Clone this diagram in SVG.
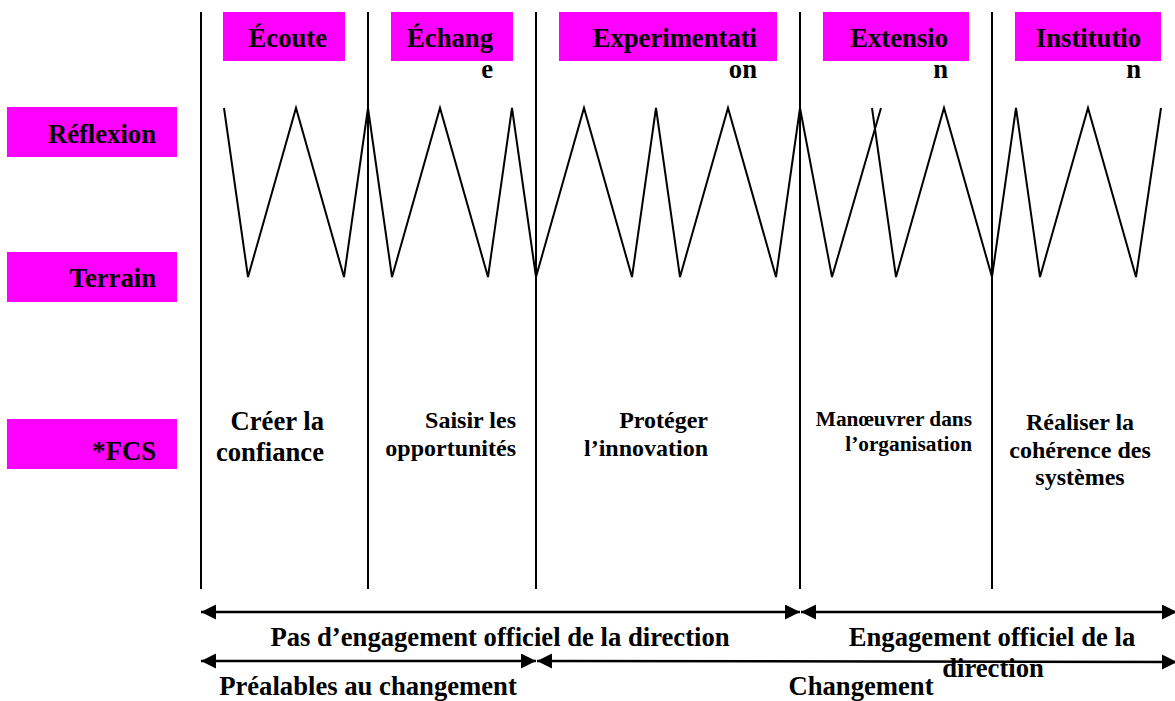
<svg xmlns="http://www.w3.org/2000/svg" width="1175" height="701" viewBox="0 0 1175 701" font-family="'Liberation Serif', 'DejaVu Serif', serif">
<defs>
<style>
.box{fill:#ff00ff;}
.t{font-family:'Liberation Serif','DejaVu Serif',serif;font-weight:700;font-size:26.67px;fill:#000;}
.s{font-size:24px;}
.xs{font-size:21.33px;}
.vl{stroke:#000;stroke-width:2;fill:none;}
.zz{stroke:#000;stroke-width:2;fill:none;stroke-linejoin:miter;}
.ar{stroke:#000;stroke-width:2.5;fill:none;marker-start:url(#ah);marker-end:url(#ah);}
</style>
<marker id="ah" markerUnits="userSpaceOnUse" markerWidth="16" markerHeight="16" refX="15" refY="7.5" orient="auto-start-reverse" viewBox="0 0 16 16">
<path d="M0,0 L15,7.5 L0,15 z" fill="#000"/>
</marker>
</defs>
<rect width="1175" height="701" fill="#fff"/>

<g id="grid">
<line class="vl" x1="201" y1="12" x2="201" y2="589"/>
<line class="vl" x1="368" y1="12" x2="368" y2="589"/>
<line class="vl" x1="536" y1="12" x2="536" y2="589"/>
<line class="vl" x1="800" y1="12" x2="800" y2="589"/>
<line class="vl" x1="992" y1="12" x2="992" y2="589"/>
</g>

<g id="phase-ecoute">
<rect class="box" x="223" y="12" width="122" height="49"/>
<text class="t" x="327" y="47" text-anchor="end">Écoute</text>
</g>
<g id="phase-echange">
<rect class="box" x="391" y="12" width="122" height="49"/>
<text class="t" x="493" y="47" text-anchor="end">Échang</text>
<text class="t" x="493" y="78" text-anchor="end">e</text>
</g>
<g id="phase-experimentation">
<rect class="box" x="559" y="12" width="218" height="49"/>
<text class="t" x="757" y="47" text-anchor="end">Experimentati</text>
<text class="t" x="757" y="78" text-anchor="end">on</text>
</g>
<g id="phase-extension">
<rect class="box" x="823" y="12" width="146" height="49"/>
<text class="t" x="948" y="47" text-anchor="end">Extensio</text>
<text class="t" x="948" y="78" text-anchor="end">n</text>
</g>
<g id="phase-institution">
<rect class="box" x="1015" y="12" width="146" height="49"/>
<text class="t" x="1141" y="47" text-anchor="end">Institutio</text>
<text class="t" x="1141" y="78" text-anchor="end">n</text>
</g>

<g id="row-reflexion">
<rect class="box" x="7" y="107" width="170" height="50"/>
<text class="t" x="156" y="143" text-anchor="end">Réflexion</text>
</g>
<g id="row-terrain">
<rect class="box" x="7" y="252" width="170" height="50"/>
<text class="t" x="156" y="287" text-anchor="end">Terrain</text>
</g>
<g id="row-fcs">
<rect class="box" x="7" y="419" width="170" height="50"/>
<text class="t" x="156" y="460" text-anchor="end">*FCS</text>
</g>

<g id="fcs-confiance">
<text class="t" text-anchor="end"><tspan x="324" y="430">Créer la</tspan><tspan x="324" y="461">confiance</tspan></text>
</g>
<g id="fcs-opportunites">
<text class="t s" text-anchor="end"><tspan x="516" y="428">Saisir les</tspan><tspan x="516" y="456">opportunités</tspan></text>
</g>
<g id="fcs-innovation">
<text class="t s" text-anchor="end"><tspan x="708" y="428">Protéger</tspan><tspan x="708" y="456">l’innovation</tspan></text>
</g>
<g id="fcs-organisation">
<text class="t xs" text-anchor="end"><tspan x="972" y="426">Manœuvrer dans</tspan><tspan x="972" y="451">l’organisation</tspan></text>
</g>
<g id="fcs-systemes">
<text class="t s" text-anchor="middle"><tspan x="1080" y="430">Réaliser la</tspan><tspan x="1080" y="458">cohérence des</tspan><tspan x="1080" y="485">systèmes</tspan></text>
</g>

<g id="connectors">
<polyline class="zz" points="224,108 248,277 296,108 344,277 368,108 392,277 440,108 488,277 512,108 536,277 584,108 632,277 656,108 680,277 728,108 776,277 800,108 832,277 881,108"/>
<polyline class="zz" points="872,108 896,277 944,108 992,277 1016,108 1040,277 1088,108 1136,277 1161,108"/>
<line class="ar" x1="201" y1="612" x2="800" y2="612"/>
<line class="ar" x1="801" y1="612" x2="1177" y2="612"/>
<line class="ar" x1="201" y1="661" x2="536" y2="661"/>
<line class="ar" x1="537" y1="661" x2="1177" y2="662"/>
</g>

<g id="labels">
<text class="t" x="500" y="646" text-anchor="middle">Pas d’engagement officiel de la direction</text>
<text class="t" x="992" y="646" text-anchor="middle">Engagement officiel de la</text>
<text class="t" x="993" y="677" text-anchor="middle">direction</text>
<text class="t" x="368" y="695" text-anchor="middle">Préalables au changement</text>
<text class="t" x="861" y="695" text-anchor="middle">Changement</text>
</g>
</svg>
